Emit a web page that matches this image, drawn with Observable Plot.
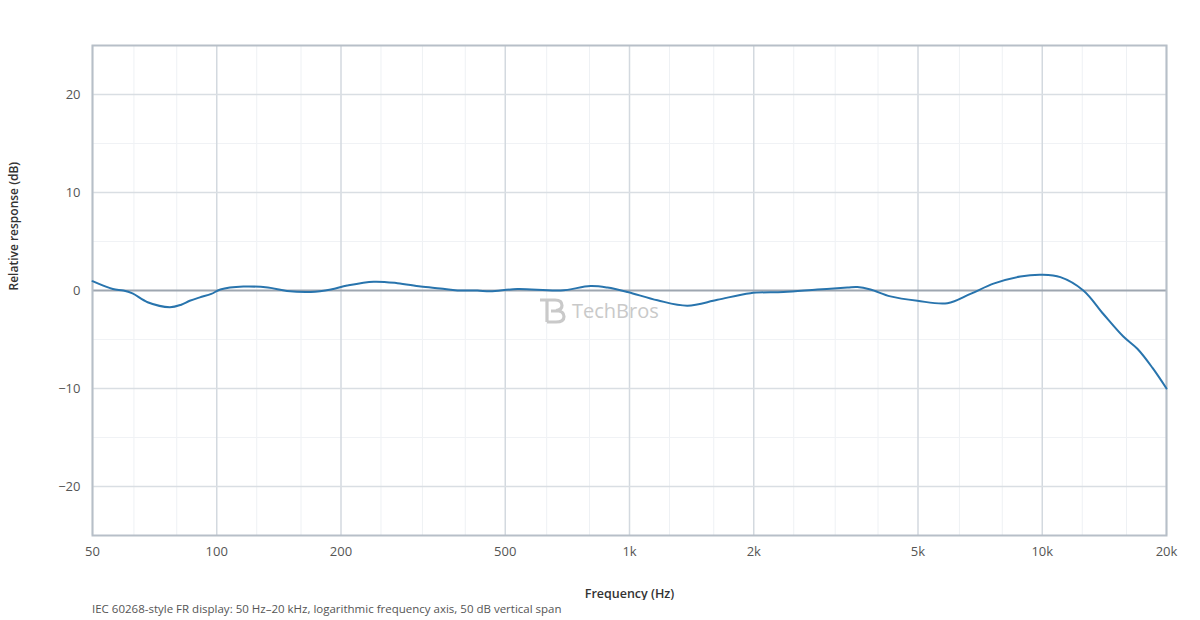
<!DOCTYPE html>
<html>
<head>
<meta charset="utf-8">
<script src="https://cdn.jsdelivr.net/npm/d3@7"></script>
<script src="https://cdn.jsdelivr.net/npm/@observablehq/plot@0.6"></script>
<style>
  html, body { margin: 0; padding: 0; background: #fff; }
  body { width: 1200px; height: 620px; position: relative; font-family: "Open Sans", sans-serif; }
  #chart { position: absolute; left: 0; top: 0; }
  #caption { position: absolute; left: 92px; top: 601px; font-size: 11.5px; color: #555; }
  #mark { position: absolute; left: 539px; top: 297px; display: flex; align-items: center; gap: 3px; color: #c9c9c9; font-size: 20px; }
</style>
</head>
<body>
<div id="chart"></div>
<div id="mark">
  <svg width="30" height="26" viewBox="0 0 30 26">
    <path d="M1 2 H16 M8 2 V24 M8 2 H16 Q23 2 23 7.5 Q23 12 17 12.5 Q25 13 25 18.5 Q25 24 17 24 H8 M12 13 H19"
          fill="none" stroke="#c9c9c9" stroke-width="3.2"/>
  </svg>
  <span>TechBros</span>
</div>
<div id="caption">IEC 60268-style FR display: 50 Hz–20 kHz, logarithmic frequency axis, 50 dB vertical span</div>
<script>
const freqHz = [50, 56, 59.4, 62.5, 68, 77, 82, 86, 91, 97, 102, 116, 133, 148, 169, 189, 207, 240, 274, 312, 348, 383, 428,
  460, 535, 681, 804, 884, 989, 1169, 1381, 1633, 1963, 2360, 2852, 3373, 3565, 3835, 4287, 4983, 5890,
  6700, 7618, 8850, 10000, 11065, 12576, 14060, 15720, 17000, 18500, 20000];
const responseDb = [0.95, 0.15, 0.0, -0.3, -1.2, -1.7, -1.45, -1.05, -0.7, -0.35, 0.1, 0.4, 0.3, -0.05, -0.15, 0.1, 0.5, 0.9, 0.75, 0.4, 0.2, 0.0, 0.0,
  -0.08, 0.15, 0.0, 0.45, 0.3, -0.15, -1.0, -1.55, -0.95, -0.27, -0.15, 0.1, 0.3, 0.35, 0.1, -0.6, -1.05, -1.3,
  -0.35, 0.7, 1.43, 1.6, 1.36, 0.0, -2.4, -4.7, -5.95, -7.9, -10.0];

const majorHz = [50, 100, 200, 500, 1000, 2000, 5000, 10000, 20000];
const minorHz = [63, 80, 125, 160, 250, 315, 400, 630, 800, 1250, 1600, 2500, 3150, 4000, 6300, 8000, 12500, 16000];
const majorDb = [-20, -10, 10, 20];
const minorDb = [-15, -5, 5, 15];

const rows = freqHz.map((f, i) => ({ f, db: responseDb[i] }));
const fmtHz = d => d >= 1000 ? `${d / 1000}k` : `${d}`;

const plot = Plot.plot({
  width: 1200,
  height: 600,
  marginTop: 45,
  marginBottom: 65,
  marginLeft: 92,
  marginRight: 34,
  style: { fontFamily: '"Open Sans", sans-serif', fontSize: 13, color: "#555", background: "#fff" },
  x: { type: "log", domain: [50, 20000], axis: null },
  y: {
    domain: [-25, 25],
    ticks: [-20, -10, 0, 10, 20],
    tickSize: 0,
    tickPadding: 12,
    label: null
  },
  marks: [
    Plot.ruleX(minorHz, { stroke: "#eef1f4", strokeWidth: 1 }),
    Plot.ruleY(minorDb, { stroke: "#f0f2f5", strokeWidth: 1 }),
    Plot.ruleX(majorHz, { stroke: "#d3d9df", strokeWidth: 1.5 }),
    Plot.ruleY(majorDb, { stroke: "#d9dee3", strokeWidth: 1.5 }),
    Plot.ruleY([0], { stroke: "#9ea6b0", strokeWidth: 2 }),
    Plot.frame({ stroke: "#b7bfc8", strokeWidth: 2 }),
    Plot.line(rows, { x: "f", y: "db", stroke: "#2874ad", strokeWidth: 2, curve: "catmull-rom" }),
    // x tick labels (log axis)
    Plot.text(majorHz, { x: d => d, text: fmtHz, frameAnchor: "bottom", lineAnchor: "top", dy: 11, fontSize: 13, fill: "#555" }),
    Plot.text(["Frequency (Hz)"], { frameAnchor: "bottom", dy: 58, lineAnchor: "middle", fontSize: 12.5, fontWeight: 600, fill: "#333" }),
    Plot.text(["Relative response (dB)"], { frameAnchor: "left", dx: -78, rotate: -90, fontSize: 12, fontWeight: 600, fill: "#333" })
  ]
});
document.getElementById("chart").append(plot);
</script>
</body>
</html>
